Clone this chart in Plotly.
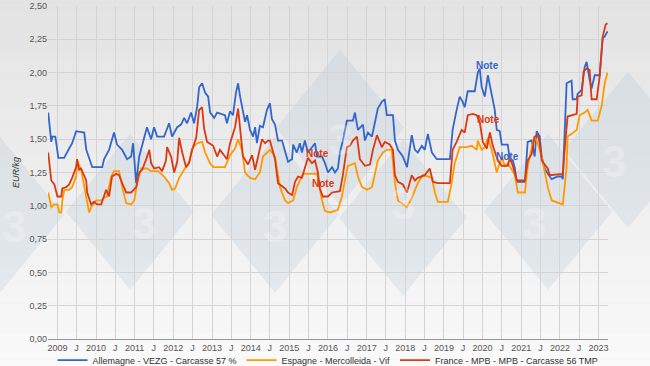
import plotly.graph_objects as go

# ---------------- DATA ----------------
de_dates = ["2008-10-06","2008-11-04","2008-11-14","2008-12-12","2009-01-10","2009-03-05","2009-04-22","2009-05-20",
            "2009-06-27","2009-09-11","2009-10-01","2009-10-28","2009-11-26","2010-02-28","2010-03-18","2010-05-04",
            "2010-06-20","2010-07-18","2010-09-05","2010-10-21","2010-11-29","2010-12-17","2011-01-15","2011-02-13",
            "2011-03-30","2011-04-27","2011-06-05","2011-07-03","2011-08-01","2011-10-06","2011-11-22","2011-12-20",
            "2012-02-07","2012-03-14","2012-04-12","2012-05-10","2012-06-17","2012-07-15","2012-08-13","2012-09-01",
            "2012-09-29","2012-10-27","2012-11-25","2012-12-14","2013-01-21","2013-02-18","2013-05-03","2013-05-22",
            "2013-06-20","2013-07-18","2013-08-15","2013-09-04","2013-09-23","2013-10-20","2013-11-09","2013-11-28",
            "2013-12-26","2014-01-24","2014-02-12","2014-03-01","2014-03-29","2014-04-27","2014-06-04","2014-07-02",
            "2014-07-21","2014-08-19","2014-09-16","2014-10-24","2014-11-22","2014-12-20","2015-01-27","2015-02-06",
            "2015-03-13","2015-04-11","2015-04-30","2015-05-28","2015-06-26","2015-08-03","2015-09-01","2015-09-19",
            "2015-11-06","2015-12-04","2016-01-02","2016-02-09","2016-03-07","2016-04-04","2016-04-23","2016-05-21",
            "2016-06-28","2016-08-24","2016-09-12","2016-10-10","2016-11-27","2016-12-15","2017-01-13","2017-02-20",
            "2017-03-19","2017-04-16","2017-05-24","2017-06-21","2017-07-10","2017-09-06","2017-09-25","2017-10-23",
            "2017-12-09","2018-01-17","2018-03-03","2018-04-01","2018-04-29","2018-06-06","2018-07-04","2018-08-02",
            "2018-09-09","2018-10-26","2019-02-26","2019-03-24","2019-05-01","2019-05-30","2019-06-27","2019-07-16",
            "2019-08-14","2019-10-19","2019-11-17","2019-12-05","2019-12-24","2020-01-22","2020-02-20","2020-03-27",
            "2020-04-25","2020-05-14","2020-06-11","2020-06-30","2020-08-26","2020-09-15","2020-10-13","2020-11-01",
            "2020-11-20","2021-02-04","2021-03-02","2021-04-09","2021-05-07","2021-05-26","2021-06-24","2021-07-12",
            "2021-08-10","2021-09-08","2021-10-15","2021-12-11","2022-01-18","2022-01-28","2022-03-05","2022-04-21",
            "2022-05-01","2022-06-08","2022-06-17","2022-07-25","2022-08-22","2022-09-10","2022-09-20","2022-10-08",
            "2022-10-27","2022-11-25","2023-01-11","2023-02-09","2023-02-28","2023-03-26"]
de_values = [1.70,1.48,1.52,1.52,1.36,1.36,1.43,1.47,1.56,1.55,1.42,1.35,1.29,1.29,1.35,1.42,
             1.55,1.46,1.42,1.35,1.37,1.47,1.17,1.37,1.50,1.59,1.50,1.59,1.52,1.52,1.62,1.52,
             1.59,1.61,1.66,1.62,1.70,1.62,1.74,1.89,1.92,1.85,1.82,1.70,1.66,1.70,1.68,1.62,
             1.71,1.68,1.85,1.92,1.82,1.70,1.63,1.68,1.57,1.52,1.59,1.47,1.60,1.59,1.72,1.77,
             1.65,1.61,1.49,1.49,1.41,1.33,1.35,1.46,1.40,1.47,1.40,1.49,1.40,1.44,1.47,1.37,
             1.37,1.32,1.25,1.29,1.25,1.28,1.40,1.49,1.64,1.64,1.70,1.57,1.61,1.49,1.55,1.52,
             1.62,1.73,1.78,1.80,1.68,1.68,1.49,1.42,1.37,1.29,1.53,1.42,1.40,1.45,1.42,1.54,
             1.40,1.35,1.35,1.57,1.72,1.82,1.78,1.74,1.86,1.86,2.00,2.03,1.89,1.82,1.98,1.82,
             1.72,1.57,1.56,1.46,1.46,1.34,1.34,1.28,1.18,1.18,1.48,1.49,1.37,1.56,1.52,1.37,
             1.28,1.24,1.20,1.22,1.22,1.20,1.92,1.94,1.80,1.80,1.84,1.87,2.04,2.08,2.02,1.95,
             1.88,1.98,1.98,2.26,2.27,2.31]

es_dates = ["2008-10-06","2008-11-04","2008-12-03","2009-01-01","2009-01-19","2009-02-07","2009-02-16","2009-03-07",
            "2009-04-22","2009-05-20","2009-06-27","2009-07-06","2009-08-13","2009-09-11","2009-10-09","2009-10-28",
            "2009-11-16","2010-01-03","2010-02-19","2010-03-18","2010-04-15","2010-05-23","2010-06-20","2010-08-07",
            "2010-09-05","2010-10-13","2010-11-29","2010-12-28","2011-01-25","2011-03-03","2011-04-27","2011-06-05",
            "2011-08-10","2011-10-06","2011-11-22","2011-12-20","2012-01-18","2012-02-25","2012-04-12","2012-05-29",
            "2012-06-27","2012-08-13","2012-09-29","2012-10-27","2012-12-14","2013-01-12","2013-05-03","2013-06-20",
            "2013-08-06","2013-09-04","2013-10-11","2013-11-09","2013-12-26","2014-02-12","2014-03-29","2014-04-27",
            "2014-07-02","2014-08-19","2014-10-05","2014-11-22","2014-12-20","2015-02-06","2015-03-13","2015-04-11",
            "2015-05-10","2015-09-19","2015-11-06","2015-12-04","2016-01-21","2016-04-04","2016-05-12","2016-06-09",
            "2016-07-07","2016-09-12","2016-10-10","2016-11-18","2017-01-05","2017-02-20","2017-03-19","2017-04-16",
            "2017-06-03","2017-07-10","2017-08-26","2017-09-25","2017-10-23","2017-12-09","2018-01-17","2018-03-03",
            "2018-04-01","2018-04-29","2018-06-15","2018-09-09","2018-10-07","2018-11-04","2019-02-07","2019-03-15",
            "2019-04-13","2019-05-30","2019-08-04","2019-09-21","2019-11-07","2019-11-17","2019-12-24","2020-01-22",
            "2020-02-20","2020-03-27","2020-04-25","2020-05-14","2020-06-30","2020-07-28","2020-08-26","2020-11-01",
            "2020-11-29","2021-02-04","2021-03-02","2021-04-09","2021-05-07","2021-06-05","2021-07-12","2021-08-10",
            "2021-09-08","2021-10-15","2022-01-28","2022-03-05","2022-03-14","2022-04-21","2022-06-08","2022-07-06",
            "2022-08-22","2022-09-20","2022-10-27","2022-12-24","2023-01-30","2023-02-28","2023-03-26"]
es_values = [1.10,0.99,1.01,1.01,0.95,0.95,1.04,1.12,1.12,1.14,1.22,1.34,1.27,1.14,1.02,0.95,
             0.99,1.04,1.04,1.06,1.07,1.22,1.26,1.26,1.14,1.02,1.01,1.04,1.17,1.28,1.28,1.26,
             1.26,1.22,1.17,1.12,1.13,1.21,1.27,1.33,1.43,1.47,1.48,1.40,1.32,1.29,1.29,1.38,
             1.43,1.50,1.42,1.25,1.21,1.20,1.25,1.37,1.42,1.37,1.14,1.04,1.02,1.04,1.14,1.19,
             1.24,1.24,1.04,0.96,0.95,0.97,1.07,1.19,1.30,1.32,1.22,1.14,1.12,1.14,1.25,1.34,
             1.40,1.42,1.42,1.17,1.04,1.01,0.99,1.06,1.12,1.17,1.23,1.21,1.10,1.03,1.03,1.17,
             1.32,1.44,1.44,1.45,1.42,1.49,1.42,1.44,1.51,1.42,1.32,1.25,1.37,1.30,1.32,1.23,
             1.10,1.10,1.29,1.44,1.52,1.47,1.37,1.24,1.14,1.04,1.01,1.29,1.52,1.54,1.57,1.68,
             1.70,1.72,1.64,1.64,1.75,1.92,2.00]

fr_dates = ["2008-10-06","2008-11-04","2008-12-03","2009-01-01","2009-02-07","2009-02-16","2009-03-25","2009-04-22",
            "2009-05-20","2009-06-27","2009-07-06","2009-07-25","2009-08-13","2009-09-11","2009-09-30","2009-10-09",
            "2009-11-16","2009-12-14","2010-01-12","2010-02-19","2010-03-18","2010-04-06","2010-05-04","2010-06-01",
            "2010-07-09","2010-08-07","2010-09-05","2010-10-13","2010-11-29","2010-12-28","2011-01-15","2011-02-13",
            "2011-03-13","2011-04-20","2011-05-19","2011-06-05","2011-07-03","2011-08-19","2011-09-17","2011-10-24",
            "2011-11-03","2011-12-11","2012-01-09","2012-02-07","2012-02-25","2012-03-25","2012-05-01","2012-05-29",
            "2012-06-27","2012-08-04","2012-09-01","2012-09-29","2012-10-18","2012-11-15","2013-01-12","2013-02-18",
            "2013-03-17","2013-04-24","2013-05-22","2013-06-20","2013-08-06","2013-09-04","2013-09-23","2013-10-20",
            "2013-12-07","2014-01-14","2014-02-12","2014-03-12","2014-04-18","2014-05-17","2014-06-14","2014-07-02",
            "2014-07-30","2014-08-19","2014-09-16","2014-10-24","2014-11-22","2014-12-20","2015-01-27","2015-02-24",
            "2015-03-24","2015-04-30","2015-05-28","2015-06-26","2015-08-03","2015-09-01","2015-09-28","2015-10-17",
            "2015-11-14","2016-01-02","2016-02-09","2016-04-23","2016-05-21","2016-06-28","2016-07-26","2016-08-24",
            "2016-10-01","2016-10-29","2016-12-15","2017-02-01","2017-03-01","2017-04-08","2017-05-24","2017-06-21",
            "2017-08-07","2017-09-06","2017-09-25","2017-10-23","2017-12-09","2018-01-17","2018-03-03","2018-04-01",
            "2018-04-29","2018-07-04","2018-08-20","2018-09-18","2018-11-04","2019-02-26","2019-03-24","2019-05-01",
            "2019-06-17","2019-07-16","2019-08-14","2019-09-30","2019-11-07","2019-12-05","2020-01-03","2020-02-10",
            "2020-03-10","2020-04-07","2020-05-24","2020-06-30","2020-08-26","2020-09-15","2020-10-13","2020-11-20",
            "2021-02-04","2021-03-02","2021-04-09","2021-05-07","2021-06-05","2021-06-24","2021-07-12","2021-08-10",
            "2021-09-08","2021-09-27","2022-01-28","2022-02-14","2022-03-14","2022-06-08","2022-06-17","2022-07-25",
            "2022-08-13","2022-09-10","2022-10-08","2022-10-27","2022-12-14","2023-01-11","2023-01-30","2023-02-09",
            "2023-03-09","2023-03-26"]
fr_values = [1.40,1.19,1.16,1.07,1.07,1.13,1.14,1.16,1.21,1.29,1.35,1.27,1.28,1.22,1.19,1.10,
             1.01,1.03,1.01,1.01,1.07,1.12,1.07,1.22,1.24,1.23,1.17,1.10,1.10,1.13,1.14,1.25,
             1.27,1.35,1.42,1.32,1.28,1.29,1.26,1.34,1.44,1.37,1.25,1.33,1.51,1.40,1.29,1.32,
             1.42,1.51,1.72,1.74,1.58,1.48,1.45,1.37,1.42,1.38,1.35,1.47,1.59,1.73,1.59,1.37,
             1.31,1.38,1.27,1.37,1.50,1.47,1.49,1.49,1.40,1.35,1.17,1.15,1.13,1.10,1.08,1.18,
             1.22,1.21,1.28,1.36,1.32,1.34,1.25,1.13,1.07,1.07,1.10,1.11,1.23,1.44,1.45,1.49,
             1.52,1.35,1.30,1.31,1.42,1.53,1.44,1.48,1.46,1.42,1.23,1.18,1.16,1.10,1.23,1.19,
             1.21,1.23,1.28,1.18,1.17,1.17,1.42,1.48,1.57,1.55,1.68,1.69,1.68,1.63,1.48,1.43,
             1.55,1.45,1.34,1.30,1.30,1.36,1.30,1.19,1.19,1.34,1.39,1.52,1.53,1.47,1.34,1.31,
             1.28,1.23,1.24,1.42,1.67,1.69,1.82,1.83,2.01,2.03,2.02,1.80,1.80,1.97,2.14,2.27,
             2.36,2.37]

series_names = ["Allemagne - VEZG - Carcasse 57 %", "Espagne - Mercolleida - Vif",
                "France - MPB - MPB - Carcasse 56 TMP"]
series_colors = ["#3366cc", "#ff9900", "#dc3912"]

note_dates = ["2020-02-20", "2020-02-26", "2020-08-23", "2015-09-28", "2015-11-18"]
note_values = [2.05, 1.65, 1.37, 1.39, 1.17]
note_series = [0, 2, 0, 2, 2]

tick_years = list(range(2009, 2024))

FONT = "Liberation Sans, Arial, sans-serif"

# ---------------- FIGURE ----------------
fig = go.Figure()
for dates, vals, name, col in [(de_dates, de_values, series_names[0], series_colors[0]),
                               (es_dates, es_values, series_names[1], series_colors[1]),
                               (fr_dates, fr_values, series_names[2], series_colors[2])]:
    fig.add_trace(go.Scatter(x=dates, y=vals, mode="lines", name=name,
                             line=dict(color=col, width=1.8)))

# background gradient (decorative)
shapes = []
n = 40
y0p, y1p = -0.09, 1.03
for i in range(n):
    t = i / (n - 1)
    c = int(250 - (250 - 227) * t)
    shapes.append(dict(type="rect", xref="paper", yref="paper", layer="below",
                       x0=-0.1, x1=1.1,
                       y0=y0p + (y1p - y0p) * i / n, y1=y0p + (y1p - y0p) * (i + 1) / n,
                       line=dict(width=0), fillcolor=f"rgb({c},{c},{c})"))

# faint diamond watermark (decorative)
W, H = 560.0, 333.0
def px(xp, yp):
    return (xp - 48) / W, (339.3 - yp) / H
annotations = []
for cx, cy in [(0, 215), (130, 212), (275, 215), (403, 218), (548, 212), (628, 150), (340, 128)]:
    hw, hh = 64, 78
    pts = [px(cx, cy - hh), px(cx + hw, cy), px(cx, cy + hh), px(cx - hw, cy)]
    path = "M " + " L ".join(f"{a:.4f},{b:.4f}" for a, b in pts) + " Z"
    shapes.append(dict(type="path", xref="paper", yref="paper", layer="below", path=path,
                       line=dict(width=0), fillcolor="rgba(160,185,212,0.2)"))
    ax, ay = px(cx, cy + 12)
    annotations.append(dict(x=ax, y=ay, xref="paper", yref="paper", text="<b>3</b>", showarrow=False,
                            font=dict(size=44, color="rgba(255,255,255,0.25)", family=FONT)))

tickvals, ticktext = [], []
for yr in tick_years:
    tickvals.append(f"{yr}-01-01"); ticktext.append(str(yr))
    if yr < 2023:
        tickvals.append(f"{yr}-07-01"); ticktext.append("J")

for d, v, s in zip(note_dates, note_values, note_series):
    annotations.append(dict(x=d, y=v, xref="x", yref="y", text="<b>Note</b>", showarrow=False,
                            font=dict(size=10, color=series_colors[s], family=FONT)))

fig.update_layout(
    width=650, height=366,
    margin=dict(l=48, r=42, t=6, b=27, autoexpand=False),
    paper_bgcolor="#eeeeee", plot_bgcolor="rgba(0,0,0,0)",
    separators=", ",
    font=dict(family=FONT, size=9, color="#666666"),
    shapes=shapes, annotations=annotations,
    showlegend=True,
    legend=dict(orientation="h", x=0.5, xanchor="center", y=-0.02, yanchor="top",
                font=dict(size=9, color="#333333"), bgcolor="rgba(0,0,0,0)",
                itemwidth=30, tracegroupgap=0),
    xaxis=dict(type="date", range=["2008-10-04", "2023-03-31"], tickvals=tickvals, ticktext=ticktext,
               showgrid=True, gridcolor="#d4d4d4", gridwidth=1, showline=True, linecolor="#999999",
               ticks="", tickangle=0, tickfont=dict(size=9, color="#555555"), zeroline=False),
    yaxis=dict(range=[0, 2.5], dtick=0.25, tick0=0, tickformat=".2f", showgrid=True,
               gridcolor="#d4d4d4", gridwidth=1, zeroline=False, ticks="",
               tickfont=dict(size=9, color="#555555"),
               title=dict(text="EUR/kg", standoff=8,
                          font=dict(size=9, color="#333333", style="italic"))),
)

fig.write_html("out.html", config={"displayModeBar": False},
               post_script="document.body.style.margin='0';document.body.style.padding='0';"
                           "document.documentElement.style.overflow='hidden';")
